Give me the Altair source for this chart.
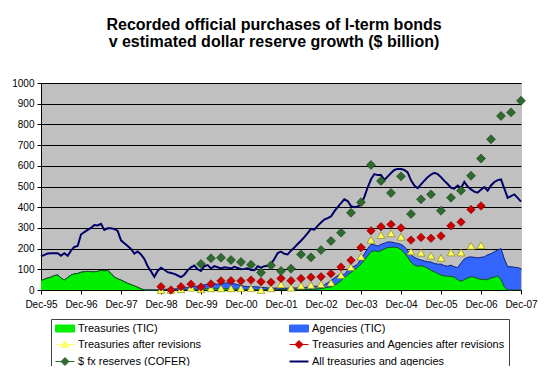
import altair as alt
import pandas as pd

title_lines = [
    "Recorded official purchases of l-term bonds",
    "v estimated dollar reserve growth ($ billion)",
]
x_labels = ["Dec-95", "Dec-96", "Dec-97", "Dec-98", "Dec-99", "Dec-00", "Dec-01",
            "Dec-02", "Dec-03", "Dec-04", "Dec-05", "Dec-06", "Dec-07"]

series_names = [
    "Treasuries (TIC)",
    "Agencies (TIC)",
    "Treasuries after revisions",
    "Treasuries and Agencies after revisions",
    "$ fx reserves (COFER)",
    "All treasuries and agencies",
]
series_colors = ["#00EE00", "#3366FF", "#FFFF66", "#CC0000", "#2F6B2F", "#000066"]
legend_strokes = ["#000000", "#000000", "#B08A80", "#C86464", "#1E4D1E", "#000066"]

# monthly, Dec-95 .. Dec-07
tic_treasuries = [
    46, 52, 58, 62, 70, 72, 58, 48, 60, 72, 78, 80,
    86, 88, 90, 88, 88, 90, 96, 92, 95, 80, 62, 54,
    48, 40, 32, 26, 20, 13, 6, 0, 0, 0, 0, 0,
    0, 0, 0, 0, 0, 0, 0, 1, 2, 2, 3, 3,
    4, 5, 6, 6, 5, 5, 5, 6, 6, 5, 4, 4,
    3, 3, 2, 2, 2, 2, 2, 2, 2, 2, 2, 2,
    2, 2, 2, 2, 2, 2, 2, 2, 2, 3, 4, 5,
    6, 10, 13, 15, 22, 32, 45, 60, 72, 85, 98, 110,
    125, 145, 165, 185, 190, 185, 190, 198, 205, 207, 207, 205,
    195, 180, 158, 135, 120, 115, 117, 113, 105, 95, 88, 80,
    72, 68, 67, 65, 62, 50, 42, 50, 58, 64, 62, 55,
    52, 50, 50, 58, 62, 68, 50, 15, 0, 0, 0, 0,
    0,
]
tic_agencies = [
    0, 0, 0, 0, 0, 0, 0, 0, 0, 0, 0, 0,
    0, 0, 0, 0, 0, 0, 0, 0, 0, 0, 0, 0,
    0, 0, 0, 0, 0, 0, 0, 0, 0, 0, 0, 0,
    2, 3, 4, 5, 5, 6, 8, 9, 10, 13, 15, 15,
    16, 20, 22, 24, 25, 23, 25, 27, 29, 27, 26, 22,
    19, 15, 14, 13, 14, 13, 11, 10, 8, 8, 7, 7,
    6, 6, 7, 8, 8, 8, 8, 10, 12, 13, 14, 13,
    12, 15, 22, 30, 36, 38, 32, 15, 23, 25, 17, 15,
    25, 30, 35, 35, 28, 27, 30, 28, 27, 25, 21, 20,
    25, 30, 32, 35, 38, 35, 28, 27, 32, 40, 40, 45,
    53, 50, 48, 55, 50, 58, 88, 100, 100, 96, 96, 100,
    106, 110, 120, 117, 123, 125, 150, 135, 113, 112, 110, 108,
    103,
]
all_treasuries_agencies = [
    162, 170, 176, 177, 177, 178, 166, 178, 165, 190, 208, 213,
    268, 280, 290, 300, 314, 312, 320, 290, 298, 298, 295, 285,
    240, 226, 212, 198, 176, 186, 172, 150, 115, 90, 64, 92,
    108, 98, 86, 82, 78, 70, 62, 74, 95, 110, 118, 100,
    92, 115, 120, 104, 115, 110, 104, 110, 108, 104, 112, 106,
    100, 102, 105, 96, 95, 115, 108, 115, 117, 125, 150, 178,
    185, 175, 172, 190, 205, 222, 238, 255, 275, 295, 292, 310,
    326, 340, 347, 355, 380, 400, 420, 438, 430, 405, 400, 404,
    412, 450, 495, 535, 560, 555, 555, 532, 548, 565, 580, 585,
    584, 580, 568, 530, 505, 492, 510, 528, 545, 558, 566, 560,
    545, 527, 512, 494, 490, 505, 493, 522, 500, 486, 475, 470,
    485, 497, 480, 505, 522, 531, 534, 490, 445, 454, 462, 445,
    427,
]
# quarterly, Dec-98 .. Dec-06
treasuries_after_revisions = [
    0, 0, 3, 11, 3, 8, 8, 8, 8, 8, 0, 8,
    27, 11, 21, 24, 28, 35, 72, 110, 161, 242, 265, 274,
    257, 186, 180, 166, 155, 181, 181, 213, 216,
]
treas_agencies_after_revisions = [
    16, 0, 16, 28, 14, 29, 44, 45, 44, 48, 40, 38,
    56, 45, 55, 62, 64, 79, 111, 144, 205, 286, 306, 317,
    300, 241, 254, 250, 261, 310, 328, 389, 406,
]
# quarterly, Dec-99 .. Dec-07
fx_reserves_cofer = [
    126, 153, 156, 145, 135, 122, 84, 119, 92, 103, 172, 158,
    193, 237, 277, 373, 424, 604, 527, 469, 549, 367, 438, 462,
    383, 446, 480, 552, 635, 728, 841, 858, 914,
]

FONT = "Liberation Sans, Arial, sans-serif"

months = list(range(len(tic_treasuries)))
df_treas = pd.DataFrame({"m": months, "v": tic_treasuries, "series": series_names[0]})
df_agen = pd.DataFrame({"m": months,
                        "v": [a + b for a, b in zip(tic_treasuries, tic_agencies)],
                        "series": series_names[1]})
df_all = pd.DataFrame({"m": months, "v": all_treasuries_agencies, "series": series_names[5]})
df_tri = pd.DataFrame({"m": [36 + 3 * i for i in range(len(treasuries_after_revisions))],
                       "v": treasuries_after_revisions, "series": series_names[2]})
df_red = pd.DataFrame({"m": [36 + 3 * i for i in range(len(treas_agencies_after_revisions))],
                       "v": treas_agencies_after_revisions, "series": series_names[3]})
df_cof = pd.DataFrame({"m": [48 + 3 * i for i in range(len(fx_reserves_cofer))],
                       "v": fx_reserves_cofer, "series": series_names[4]})

label_arr = "[" + ",".join("'%s'" % s for s in x_labels) + "]"
x_enc = alt.X("m:Q", scale=alt.Scale(domain=[0, 144], nice=False, zero=False),
              axis=alt.Axis(values=[12 * i for i in range(len(x_labels))],
                            labelExpr=label_arr + "[round(datum.value / 12)]",
                            labelOverlap=False, labelBound=False, labelFlush=False,
                            title=None, grid=False, tickSize=4, labelPadding=5,
                            domainColor="#000000", tickColor="#000000",
                            labelFontSize=10, labelFont=FONT, labelColor="#000000"))
y_enc = alt.Y("v:Q", scale=alt.Scale(domain=[0, 1000], nice=False),
              axis=alt.Axis(values=list(range(0, 1001, 100)), title=None, grid=True,
                            format="d", labelOverlap=False,
                            gridColor="#000000", gridWidth=1, tickSize=4, labelPadding=3,
                            domainColor="#000000", tickColor="#000000",
                            labelFontSize=10, labelFont=FONT, labelColor="#000000"))


def pick(values, default):
    expr = "'" + default + "'"
    for name, val in zip(series_names, values):
        expr = "(datum.value == '%s' ? '%s' : %s)" % (name, val, expr)
    return expr


rect = "M-1,-0.7H2.8V0.7H-1Z"
tri = "M-1,0H2.8M0.9,-0.8L1.65,0.55H0.15Z"
dia = "M-1,0H2.8M0.9,-0.8L1.7,0L0.9,0.8L0.1,0Z"
ln = "M-1,0H2.8"
shapes = [rect, rect, tri, dia, dia, ln]

legend = alt.Legend(
    orient="none", legendX=10, legendY=236, direction="horizontal", columns=2,
    columnPadding=83, rowPadding=4, padding=4, strokeColor="#404040", fillColor="#FFFFFF",
    labelFont=FONT, labelFontSize=11, labelColor="#000000", labelOffset=12,
    labelLimit=400, symbolSize=100, symbolOpacity=1,
    symbolType=alt.ExprRef(pick(shapes, ln)),
    symbolStrokeColor=alt.ExprRef(pick(legend_strokes, "#000000")),
    symbolStrokeWidth=alt.ExprRef("(datum.value == '%s' ? 2 : 1)" % series_names[5]),
)
color = alt.Color("series:N", scale=alt.Scale(domain=series_names, range=series_colors),
                  legend=legend, title=None)

blue_area = alt.Chart(df_agen).mark_area(opacity=1).encode(x=x_enc, y=y_enc, color=color)
blue_top = alt.Chart(df_agen).mark_line(color="#0A1F80", strokeWidth=1).encode(x=x_enc, y=y_enc)
green_area = alt.Chart(df_treas).mark_area(opacity=1).encode(x=x_enc, y=y_enc, color=color)
green_top = alt.Chart(df_treas).mark_line(color="#145214", strokeWidth=1).encode(x=x_enc, y=y_enc)
navy = alt.Chart(df_all).mark_line(strokeWidth=2).encode(x=x_enc, y=y_enc, color=color)
tris = alt.Chart(df_tri).mark_point(shape="triangle-up", filled=True, size=60, opacity=1,
                                    stroke="#8C8C00", strokeWidth=0.7).encode(
    x=x_enc, y=y_enc, color=color)
reds = alt.Chart(df_red).mark_point(shape="diamond", filled=True, size=72, opacity=1,
                                    stroke="#800000", strokeWidth=0.6).encode(
    x=x_enc, y=y_enc, color=color)
cofer = alt.Chart(df_cof).mark_point(shape="diamond", filled=True, size=80, opacity=1,
                                     stroke="#143D14", strokeWidth=0.6).encode(
    x=x_enc, y=y_enc, color=color)

chart = alt.layer(blue_area, blue_top, green_area, green_top, navy, tris, reds, cofer).properties(
    width=480, height=207,
    autosize=alt.AutoSizeParams(type="none"),
    padding={"left": 33, "top": 75, "right": 18, "bottom": 76},
    title=alt.TitleParams(title_lines, font=FONT, fontSize=16, fontWeight="bold",
                          anchor="middle", offset=28, dx=-7, lineHeight=17, color="#000000"),
    background="#FFFFFF",
).configure_view(fill="#C0C0C0", stroke="#C0C0C0")

chart.save("out.html", embed_options={"renderer": "svg", "actions": False})
